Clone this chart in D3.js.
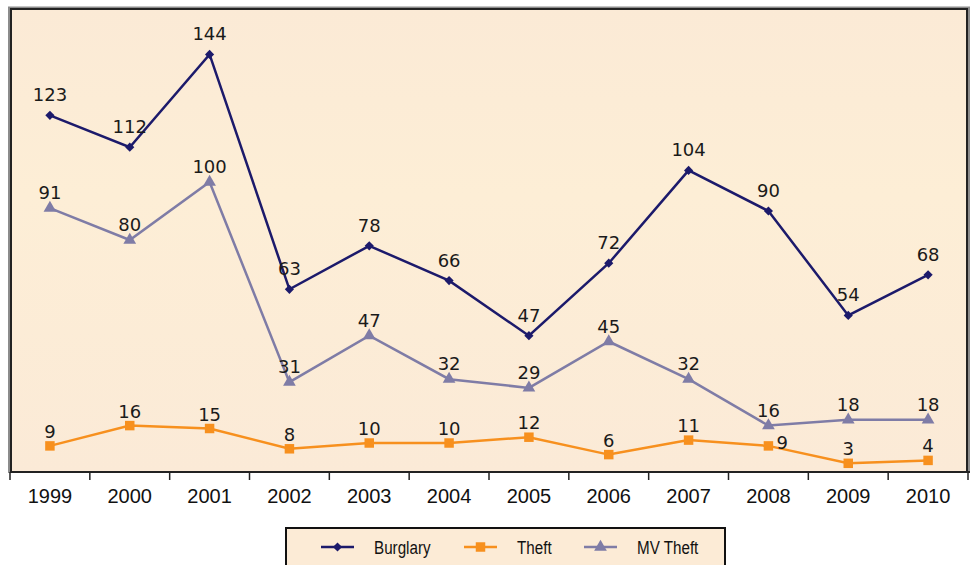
<!DOCTYPE html>
<html>
<head>
<meta charset="utf-8">
<script src="https://cdn.jsdelivr.net/npm/d3@7"></script>
<style>
    body { margin: 0; background: #fff; }
    .yearLabel { font-family: "Liberation Sans", Arial, sans-serif; font-size: 20px; fill: #111; }
    .legendText { font-family: "Liberation Sans", Arial, sans-serif; font-size: 19px; fill: #111; }
    .valueLabel { font-family: "DejaVu Sans", Verdana, sans-serif; font-size: 18px; fill: #1a1a1a; }
</style>
</head>
<body>
<script>
(function() {

    // data
    var years = ["1999", "2000", "2001", "2002", "2003", "2004", "2005", "2006", "2007", "2008", "2009", "2010"];
    var burglary = [123, 112, 144, 63, 78, 66, 47, 72, 104, 90, 54, 68];
    var theft = [9, 16, 15, 8, 10, 10, 12, 6, 11, 9, 3, 4];
    var mvTheft = [91, 80, 100, 31, 47, 32, 29, 45, 32, 16, 18, 18];
    var seriesNames = ["Burglary", "Theft", "MV Theft"];
    var yMax = 160;

    // chart frame
    var width = 970,
        height = 565,
        plotLeft = 10,
        plotRight = 968,
        plotTop = 8,
        plotBottom = 472;

    var series = [
        { name: seriesNames[0], values: burglary, color: "#1c1a6b", marker: d3.symbolSquare, rotate: 45, size: 42, labelDy: -14 },
        { name: seriesNames[1], values: theft, color: "#f7901e", marker: d3.symbolSquare, rotate: 0, size: 90, labelDy: -8 },
        { name: seriesNames[2], values: mvTheft, color: "#7f7ca6", marker: d3.symbolTriangle, rotate: 0, size: 70, labelDy: -9 }
    ];

    var svg = d3.select("body")
        .append("svg")
        .attr("width", width)
        .attr("height", height);

    var xScale = d3.scaleBand()
        .domain(years)
        .range([plotLeft, plotRight]);

    var yScale = d3.scaleLinear()
        .domain([0, yMax])
        .range([plotBottom, plotTop]);

    // plot background + frame
    var grad = svg.append("defs").append("linearGradient")
        .attr("id", "bg")
        .attr("x1", 0).attr("y1", 0).attr("x2", 0).attr("y2", 1);
    grad.append("stop").attr("offset", "0%").attr("stop-color", "#fbead6");
    grad.append("stop").attr("offset", "40%").attr("stop-color", "#fdeed6");
    grad.append("stop").attr("offset", "100%").attr("stop-color", "#fbead7");

    svg.append("rect")
        .attr("x", plotLeft - 1)
        .attr("y", plotTop - 0.5)
        .attr("width", plotRight - plotLeft + 2)
        .attr("height", plotBottom - plotTop + 0.5)
        .attr("fill", "none")
        .attr("stroke", "#8c8c8c")
        .attr("stroke-width", 2);

    svg.append("rect")
        .attr("x", plotLeft + 1)
        .attr("y", plotTop + 1)
        .attr("width", plotRight - plotLeft - 2)
        .attr("height", plotBottom - plotTop - 1)
        .attr("fill", "url(#bg)")
        .attr("stroke", "#222")
        .attr("stroke-width", 2);

    // x axis with ticks between categories
    var xAxis = d3.axisBottom(xScale)
        .tickSize(0)
        .tickPadding(17);

    var axis = svg.append("g")
        .attr("transform", "translate(0," + plotBottom + ")")
        .call(xAxis);
    axis.select(".domain").remove();
    axis.selectAll("text").attr("class", "yearLabel").attr("font-family", null).attr("font-size", null);

    svg.append("line")
        .attr("x1", plotLeft)
        .attr("x2", width)
        .attr("y1", plotBottom)
        .attr("y2", plotBottom)
        .attr("stroke", "#222")
        .attr("stroke-width", 2);

    svg.selectAll(".catTick")
        .data(years.concat(["end"]))
        .enter()
        .append("line")
        .attr("class", "catTick")
        .attr("x1", function(d, i) { return plotLeft + i * xScale.bandwidth(); })
        .attr("x2", function(d, i) { return plotLeft + i * xScale.bandwidth(); })
        .attr("y1", plotBottom)
        .attr("y2", plotBottom + 8)
        .attr("stroke", "#222")
        .attr("stroke-width", 1.5);

    function cx(i) {
        return xScale(years[i]) + xScale.bandwidth() / 2;
    }

    var line = d3.line()
        .x(function(d, i) { return cx(i); })
        .y(function(d) { return yScale(d); });

    // lines, markers, labels
    series.forEach(function(s) {
        var g = svg.append("g");

        g.append("path")
            .datum(s.values)
            .attr("d", line)
            .attr("fill", "none")
            .attr("stroke", s.color)
            .attr("stroke-width", 2.5);

        g.selectAll(".marker")
            .data(s.values)
            .enter()
            .append("path")
            .attr("class", "marker")
            .attr("d", d3.symbol().type(s.marker).size(s.size))
            .attr("transform", function(d, i) {
                return "translate(" + cx(i) + "," + yScale(d) + ") rotate(" + s.rotate + ")";
            })
            .attr("fill", s.color);

        g.selectAll(".valueLabel")
            .data(s.values)
            .enter()
            .append("text")
            .attr("class", "valueLabel")
            .attr("text-anchor", function(d, i) {
                return (s.name == "Theft" && years[i] == "2008") ? "start" : "middle";
            })
            .attr("x", function(d, i) {
                return (s.name == "Theft" && years[i] == "2008") ? cx(i) + 8 : cx(i);
            })
            .attr("y", function(d, i) {
                return (s.name == "Theft" && years[i] == "2008") ? yScale(d) + 3 : yScale(d) + s.labelDy;
            })
            .text(function(d) { return d; });
    });

    // legend
    var legend = svg.append("g");

    legend.append("rect")
        .attr("x", 286)
        .attr("y", 528)
        .attr("width", 439)
        .attr("height", 45)
        .attr("fill", "#fcebd6")
        .attr("stroke", "#111")
        .attr("stroke-width", 2);

    var legendX = [321, 464, 584];

    series.forEach(function(s, i) {
        var item = legend.append("g")
            .attr("transform", "translate(" + legendX[i] + ",547)");

        item.append("line")
            .attr("x1", 0)
            .attr("x2", 33)
            .attr("stroke", s.color)
            .attr("stroke-width", 2.5);

        item.append("path")
            .attr("d", d3.symbol().type(s.marker).size(s.size))
            .attr("transform", "translate(16.5,0) rotate(" + s.rotate + ")")
            .attr("fill", s.color);

        item.append("text")
            .attr("class", "legendText")
            .attr("transform", "translate(53,7) scale(0.8,1)")
            .text(s.name);
    });
})();
</script>
</body>
</html>
